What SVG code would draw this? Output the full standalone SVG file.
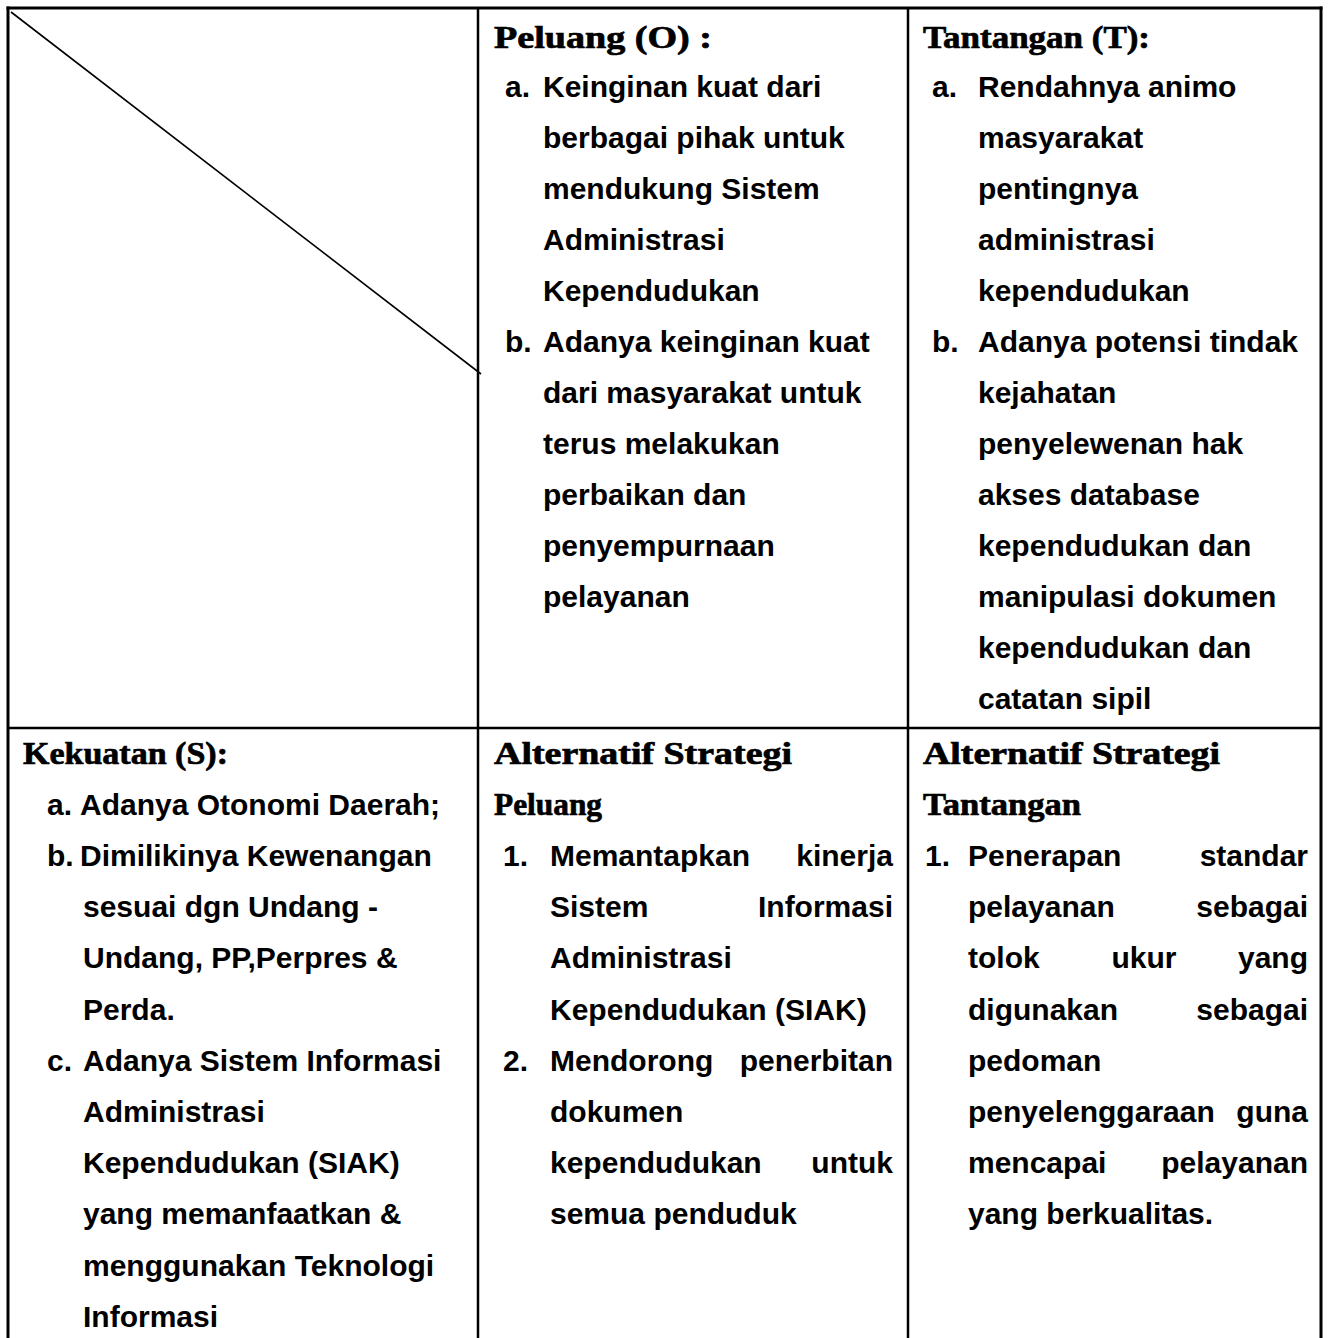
<svg xmlns="http://www.w3.org/2000/svg" width="1328" height="1338" viewBox="0 0 1328 1338">
<style>
.b{font-family:"Liberation Sans",Arial,sans-serif;font-weight:bold;font-size:30px;fill:#000}
.h{font-family:"Liberation Serif","Times New Roman",serif;font-weight:bold;font-size:32px;fill:#000;stroke:#000;stroke-width:0.7}
.e{text-anchor:end}
.m{text-anchor:middle}
.ln{stroke:#000;fill:none}
</style>
<rect width="1328" height="1338" fill="#fff"/>
<g id="grid">
<line class="ln" x1="6.5" y1="8" x2="1322.5" y2="8" stroke-width="3"/>
<line class="ln" x1="8" y1="6.5" x2="8" y2="1338" stroke-width="3"/>
<line class="ln" x1="1321" y1="6.5" x2="1321" y2="1338" stroke-width="3"/>
<line class="ln" x1="478" y1="8" x2="478" y2="1338" stroke-width="2.5"/>
<line class="ln" x1="908" y1="8" x2="908" y2="1338" stroke-width="2.5"/>
<line class="ln" x1="8" y1="728" x2="1321" y2="728" stroke-width="2.5"/>
<line class="ln" x1="11" y1="12" x2="481" y2="374" stroke-width="1.6"/>
</g>
<g id="peluang-o">
<text class="h" x="494" y="48" textLength="218" lengthAdjust="spacingAndGlyphs">Peluang (O) :</text>
<text class="b" x="505" y="97">a.</text>
<text class="b" x="543" y="97">Keinginan kuat dari</text>
<text class="b" x="543" y="148">berbagai pihak untuk</text>
<text class="b" x="543" y="199">mendukung Sistem</text>
<text class="b" x="543" y="250">Administrasi</text>
<text class="b" x="543" y="301">Kependudukan</text>
<text class="b" x="505" y="352">b.</text>
<text class="b" x="543" y="352">Adanya keinginan kuat</text>
<text class="b" x="543" y="403">dari masyarakat untuk</text>
<text class="b" x="543" y="454">terus melakukan</text>
<text class="b" x="543" y="505">perbaikan dan</text>
<text class="b" x="543" y="556">penyempurnaan</text>
<text class="b" x="543" y="607">pelayanan</text>
</g>
<g id="tantangan-t">
<text class="h" x="923" y="48" textLength="227" lengthAdjust="spacingAndGlyphs">Tantangan (T):</text>
<text class="b" x="932" y="97">a.</text>
<text class="b" x="978" y="97">Rendahnya animo</text>
<text class="b" x="978" y="148">masyarakat</text>
<text class="b" x="978" y="199">pentingnya</text>
<text class="b" x="978" y="250">administrasi</text>
<text class="b" x="978" y="301">kependudukan</text>
<text class="b" x="932" y="352">b.</text>
<text class="b" x="978" y="352">Adanya potensi tindak</text>
<text class="b" x="978" y="403">kejahatan</text>
<text class="b" x="978" y="454">penyelewenan hak</text>
<text class="b" x="978" y="505">akses database</text>
<text class="b" x="978" y="556">kependudukan dan</text>
<text class="b" x="978" y="607">manipulasi dokumen</text>
<text class="b" x="978" y="658">kependudukan dan</text>
<text class="b" x="978" y="709">catatan sipil</text>
</g>
<g id="kekuatan-s">
<text class="h" x="23" y="764" textLength="205" lengthAdjust="spacingAndGlyphs">Kekuatan (S):</text>
<text class="b" x="47" y="815">a.</text>
<text class="b" x="80" y="815">Adanya Otonomi Daerah;</text>
<text class="b" x="47" y="866">b.</text>
<text class="b" x="80" y="866">Dimilikinya Kewenangan</text>
<text class="b" x="83" y="917">sesuai dgn Undang -</text>
<text class="b" x="83" y="968">Undang, PP,Perpres &amp;</text>
<text class="b" x="83" y="1020">Perda.</text>
<text class="b" x="47" y="1071">c.</text>
<text class="b" x="83" y="1071">Adanya Sistem Informasi</text>
<text class="b" x="83" y="1122">Administrasi</text>
<text class="b" x="83" y="1173">Kependudukan (SIAK)</text>
<text class="b" x="83" y="1224">yang memanfaatkan &amp;</text>
<text class="b" x="83" y="1276">menggunakan Teknologi</text>
<text class="b" x="83" y="1327">Informasi</text>
</g>
<g id="strategi-peluang">
<text class="h" x="494" y="764" textLength="298" lengthAdjust="spacingAndGlyphs">Alternatif Strategi</text>
<text class="h" x="494" y="815" textLength="108" lengthAdjust="spacingAndGlyphs">Peluang</text>
<text class="b" x="503" y="866">1.</text>
<text class="b" x="550" y="866">Memantapkan</text>
<text class="b e" x="893" y="866">kinerja</text>
<text class="b" x="550" y="917">Sistem</text>
<text class="b e" x="893" y="917">Informasi</text>
<text class="b" x="550" y="968">Administrasi</text>
<text class="b" x="550" y="1020">Kependudukan (SIAK)</text>
<text class="b" x="503" y="1071">2.</text>
<text class="b" x="550" y="1071">Mendorong</text>
<text class="b e" x="893" y="1071">penerbitan</text>
<text class="b" x="550" y="1122">dokumen</text>
<text class="b" x="550" y="1173">kependudukan</text>
<text class="b e" x="893" y="1173">untuk</text>
<text class="b" x="550" y="1224">semua penduduk</text>
</g>
<g id="strategi-tantangan">
<text class="h" x="923" y="764" textLength="297" lengthAdjust="spacingAndGlyphs">Alternatif Strategi</text>
<text class="h" x="923" y="815" textLength="158" lengthAdjust="spacingAndGlyphs">Tantangan</text>
<text class="b" x="925" y="866">1.</text>
<text class="b" x="968" y="866">Penerapan</text>
<text class="b e" x="1308" y="866">standar</text>
<text class="b" x="968" y="917">pelayanan</text>
<text class="b e" x="1308" y="917">sebagai</text>
<text class="b" x="968" y="968">tolok</text>
<text class="b m" x="1144" y="968">ukur</text>
<text class="b e" x="1308" y="968">yang</text>
<text class="b" x="968" y="1020">digunakan</text>
<text class="b e" x="1308" y="1020">sebagai</text>
<text class="b" x="968" y="1071">pedoman</text>
<text class="b" x="968" y="1122">penyelenggaraan</text>
<text class="b e" x="1308" y="1122">guna</text>
<text class="b" x="968" y="1173">mencapai</text>
<text class="b e" x="1308" y="1173">pelayanan</text>
<text class="b" x="968" y="1224">yang berkualitas.</text>
</g>
</svg>
